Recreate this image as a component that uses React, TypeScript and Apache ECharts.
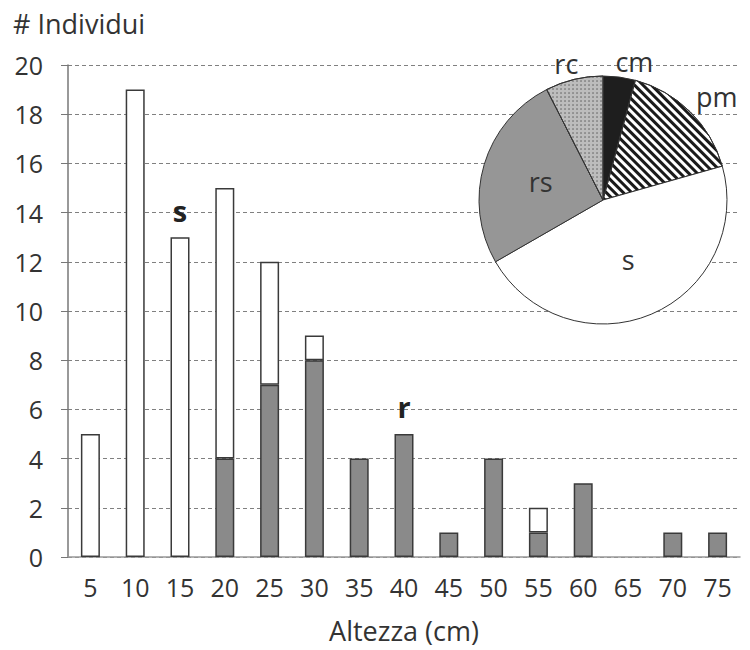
import React, { useEffect, useRef } from "react";
import * as echarts from "echarts";

const categories = ["5", "10", "15", "20", "25", "30", "35", "40", "45", "50", "55", "60", "65", "70", "75"];
const rValues = [null, null, null, 4, 7, 8, 4, 5, 1, 4, 1, 3, null, 1, 1];
const sValues = [5, 19, 13, 11, 5, 1, null, null, null, null, 1, null, null, null, null];
const pieNames = ["cm", "pm", "s", "rs", "rc"];
const pieValues = [4.2, 16.4, 46.1, 25.8, 7.5];
const annotations = [
  { name: "s", category: "15", value: 14.1 },
  { name: "r", category: "40", value: 6.1 },
];

const FONT = "Open Sans";
const TXT = "#333";

export default function App() {
  const ref = useRef<HTMLDivElement>(null);
  useEffect(() => {
    const chart = echarts.init(ref.current!, null, { renderer: "svg" });
    const pieStyles: any = {
      cm: { itemStyle: { color: "#1e1e1e" }, label: { position: "outside", distanceToLabelLine: -6 }, labelLine: { length: 16, length2: 0 } },
      pm: {
        itemStyle: {
          color: "#ffffff",
          decal: { symbol: "rect", color: "#1a1a1a", dashArrayX: [1, 0], dashArrayY: [2.2, 2.4], rotation: Math.PI / 4 },
        },
        label: { position: "outside", distanceToLabelLine: -9 },
        labelLine: { length: 21, length2: 0 },
      },
      s: { itemStyle: { color: "#ffffff" }, label: { position: "inside" } },
      rs: { itemStyle: { color: "#969696" }, label: { position: "inside" } },
      rc: {
        itemStyle: {
          color: "#bdbdbd",
          decal: { symbol: "circle", color: "#555", symbolSize: 0.7, dashArrayX: [1.5, 1.5], dashArrayY: [1.5, 1.5] },
        },
        label: { position: "outside", distanceToLabelLine: -8 },
        labelLine: { length: 16, length2: 0 },
      },
    };
    const option: any = {
      animation: false,
      backgroundColor: "#ffffff",
      title: {
        text: "# Individui",
        left: 8,
        top: 5,
        textStyle: { fontFamily: FONT, fontSize: 27, fontWeight: "normal", color: TXT },
      },
      grid: { left: 68, right: 10, top: 65, bottom: 93, outerBoundsMode: "none", containLabel: false },
      xAxis: {
        type: "category",
        data: categories,
        axisLine: { lineStyle: { color: "#999", width: 1.5 } },
        axisTick: { show: false },
        axisLabel: { fontFamily: FONT, fontSize: 25, color: TXT, margin: 17 },
        name: "Altezza (cm)",
        nameLocation: "middle",
        nameGap: 60,
        nameTextStyle: { fontFamily: FONT, fontSize: 27, color: TXT, lineHeight: 26 },
      },
      yAxis: {
        type: "value",
        min: 0,
        max: 20,
        interval: 2,
        axisLine: { show: true, lineStyle: { color: "#777", width: 1.5 } },
        axisTick: { show: true, length: 7, lineStyle: { color: "#777" } },
        axisLabel: { fontFamily: FONT, fontSize: 25, color: TXT, margin: 25 },
        splitLine: { lineStyle: { color: "#808080", type: [4, 3], width: 1 } },
      },
      series: [
        {
          name: "r",
          type: "bar",
          stack: "tot",
          data: rValues,
          barWidth: 19,
          itemStyle: { color: "#8a8a8a", borderColor: "#3a3a3a", borderWidth: 1.5 },
        },
        {
          name: "s",
          type: "bar",
          stack: "tot",
          data: sValues,
          barWidth: 19,
          itemStyle: { color: "#ffffff", borderColor: "#3a3a3a", borderWidth: 1.5 },
          markPoint: {
            symbol: "circle",
            symbolSize: 0,
            data: annotations.map((a) => ({ name: a.name, coord: [a.category, a.value] })),
            label: {
              show: true,
              position: "inside",
              formatter: (p: any) => p.name,
              fontFamily: FONT,
              fontWeight: "bold",
              fontSize: 29,
              color: "#222",
            },
          },
        },
        {
          type: "pie",
          center: [603, 200],
          radius: 124,
          startAngle: 90,
          clockwise: true,
          itemStyle: { borderColor: "#333", borderWidth: 1 },
          label: { show: true, fontFamily: FONT, fontSize: 27, color: TXT, formatter: "{b}" },
          labelLine: { show: false },
          emphasis: { disabled: true },
          data: pieNames.map((n, i) => ({
            name: n,
            value: pieValues[i],
            ...pieStyles[n],
            labelLine: { show: false, ...(pieStyles[n].labelLine || {}) },
          })),
        },
      ],
    };
    chart.setOption(option);
    return () => chart.dispose();
  }, []);
  return <div ref={ref} style={{ position: "fixed", left: 0, top: 0, width: 750, height: 650 }} />;
}
